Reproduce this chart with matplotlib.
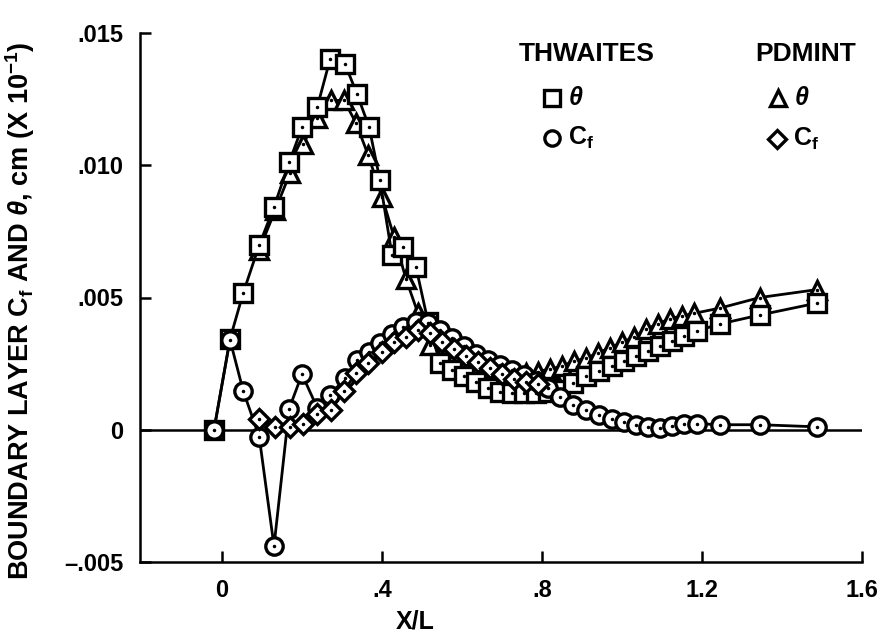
import matplotlib
matplotlib.use('Agg')
import matplotlib.pyplot as plt
from matplotlib.ticker import FixedLocator, FixedFormatter

plt.rcParams['font.family'] = ['Liberation Sans', 'DejaVu Sans']
plt.rcParams['font.weight'] = 'bold'
plt.rcParams['axes.labelweight'] = 'bold'
plt.rcParams['mathtext.fontset'] = 'custom'
plt.rcParams['mathtext.rm'] = 'Liberation Sans:bold'
plt.rcParams['mathtext.bf'] = 'Liberation Sans:bold'
plt.rcParams['mathtext.it'] = 'Liberation Sans:italic'

# Thwaites (squares = theta, circles = Cf)
thw_x = [-0.02, 0.02, 0.053, 0.093, 0.13, 0.168, 0.2, 0.238, 0.27, 0.308,
         0.338, 0.368, 0.395, 0.425, 0.453, 0.485, 0.515, 0.545, 0.575, 0.605,
         0.635, 0.665, 0.695, 0.725, 0.755, 0.785, 0.815, 0.845, 0.878, 0.91,
         0.943, 0.975, 1.005, 1.035, 1.065, 1.095, 1.125, 1.155, 1.188, 1.245,
         1.345, 1.488]
thw_theta = [0, 0.00343, 0.00517, 0.00698, 0.00842, 0.01011, 0.01143, 0.01219, 0.0140, 0.01381,
             0.01268, 0.01143, 0.00943, 0.0066, 0.0069, 0.00615, 0.00408, 0.00253, 0.00226, 0.00204,
             0.00181, 0.00158, 0.00143, 0.0014, 0.0014, 0.0014, 0.00143, 0.00151, 0.00177, 0.00204,
             0.00223, 0.00242, 0.0026, 0.00279, 0.00298, 0.00317, 0.00336, 0.00355, 0.00374, 0.0040,
             0.00434, 0.00479]
thw_cf = [0, 0.0034, 0.00147, -0.00026, -0.0044, 0.0008, 0.0021, 0.00083, 0.0013, 0.00196,
          0.00264, 0.00294, 0.00328, 0.00362, 0.00389, 0.00408, 0.00405, 0.00377, 0.00347, 0.00317,
          0.00287, 0.00264, 0.00245, 0.00226, 0.00208, 0.00185, 0.00158, 0.00125, 0.00094, 0.00075,
          0.00057, 0.00042, 0.0003, 0.00019, 0.00011, 0.00008, 0.00015, 0.00023, 0.00023, 0.00019,
          0.00019, 0.00011]

# PDMINT (triangles = theta, diamonds = Cf)
pdm_x = [0.093, 0.133, 0.17, 0.203, 0.238, 0.273, 0.305, 0.335, 0.365, 0.4,
         0.43, 0.46, 0.49, 0.52, 0.55, 0.58, 0.61, 0.64, 0.67, 0.7,
         0.73, 0.76, 0.79, 0.82, 0.85, 0.88, 0.91, 0.94, 0.97, 1.0,
         1.03, 1.06, 1.09, 1.12, 1.15, 1.18, 1.245, 1.345, 1.488]
pdm_theta = [0.0068, 0.0083, 0.0097, 0.0108, 0.0118, 0.01245, 0.01245, 0.0116, 0.0104, 0.0088,
             0.0073, 0.0057, 0.0044, 0.0032, 0.0029, 0.0027, 0.0025, 0.0024, 0.0023, 0.0022,
             0.00215, 0.00215, 0.0022, 0.0023, 0.0024, 0.0026, 0.0027, 0.0029, 0.0031, 0.0033,
             0.0035, 0.0038, 0.0040, 0.0042, 0.0043, 0.0044, 0.0046, 0.0050, 0.0053]
pdm_cf = [0.00042, 0.0001, 0.0001, 0.00023, 0.0006, 0.00075, 0.00147, 0.00215, 0.00253, 0.00294,
          0.00332, 0.00351, 0.00377, 0.00366, 0.00332, 0.00306, 0.00279, 0.00257, 0.00234, 0.00211,
          0.00192, 0.00181, 0.00174]

x_ticks = [0, 0.4, 0.8, 1.2, 1.6]
x_labels = ['0', '.4', '.8', '1.2', '1.6']
y_ticks = [-0.005, 0, 0.005, 0.010, 0.015]
y_labels = ['\u2013.005', '0', '.005', '.010', '.015']

fig = plt.figure(figsize=(8.87, 6.41), dpi=100)
ax = fig.add_axes([140/887, 1 - 562/641, 722/887, 529/641])

ax.axhline(0, color='k', lw=1.8, zorder=1)


def serie(x, y, marker, ms):
    ax.plot(x, y, '-', color='k', lw=2.0, marker=marker, ms=ms,
            mfc='white', mec='k', mew=2.4, zorder=2, clip_on=False)
    ax.plot(x, y, '.', color='k', ms=3, zorder=2, clip_on=False)


serie(pdm_x, pdm_theta, '^', 13)
serie(thw_x, thw_theta, 's', 12.5)
serie(thw_x, thw_cf, 'o', 12.5)
serie(pdm_x[:len(pdm_cf)], pdm_cf, 'D', 10)

ax.set_xlim(-0.205, 1.6)
ax.set_ylim(-0.005, 0.015)
ax.spines['top'].set_visible(False)
ax.spines['right'].set_visible(False)
for s in ['left', 'bottom']:
    ax.spines[s].set_linewidth(1.8)

ax.xaxis.set_major_locator(FixedLocator(x_ticks))
ax.xaxis.set_major_formatter(FixedFormatter(x_labels))
ax.yaxis.set_major_locator(FixedLocator(y_ticks))
ax.yaxis.set_major_formatter(FixedFormatter(y_labels))
ax.tick_params(direction='in', length=8, width=1.8, labelsize=17)
ax.tick_params(axis='y', pad=12)
ax.tick_params(axis='x', pad=12)

ax.set_xlabel('X/L', fontsize=18, labelpad=4)
ax.xaxis.set_label_coords(0.381, -0.09)
ax.set_ylabel(r'BOUNDARY LAYER C$_{\mathbf{f}}$ AND $\mathit{\theta}$, cm (X 10$^{\mathbf{-1}}$)',
              fontsize=19.5)
ax.yaxis.set_label_coords(-0.143, 0.475)

# legend block
tr = ax.transAxes
ax.text(0.618, 0.960, 'THWAITES', transform=tr, ha='center', va='center', fontsize=19)
ax.text(0.922, 0.960, 'PDMINT', transform=tr, ha='center', va='center', fontsize=19)
leg = [(0.571, 0.877, 's', r'$\mathit{\theta}$'),
       (0.571, 0.802, 'o', r'C$_{\mathbf{f}}$'),
       (0.884, 0.877, '^', r'$\mathit{\theta}$'),
       (0.882, 0.800, 'D', r'C$_{\mathbf{f}}$')]
for lx, ly, m, lab in leg:
    ax.plot([lx], [ly], marker=m, ms=11 if m != 'D' else 9, mfc='white', mec='k', mew=2.4,
            transform=tr, clip_on=False)
    ax.text(lx + 0.022, ly, lab, transform=tr, ha='left', va='center', fontsize=18)

fig.savefig('out.png', dpi=100)
